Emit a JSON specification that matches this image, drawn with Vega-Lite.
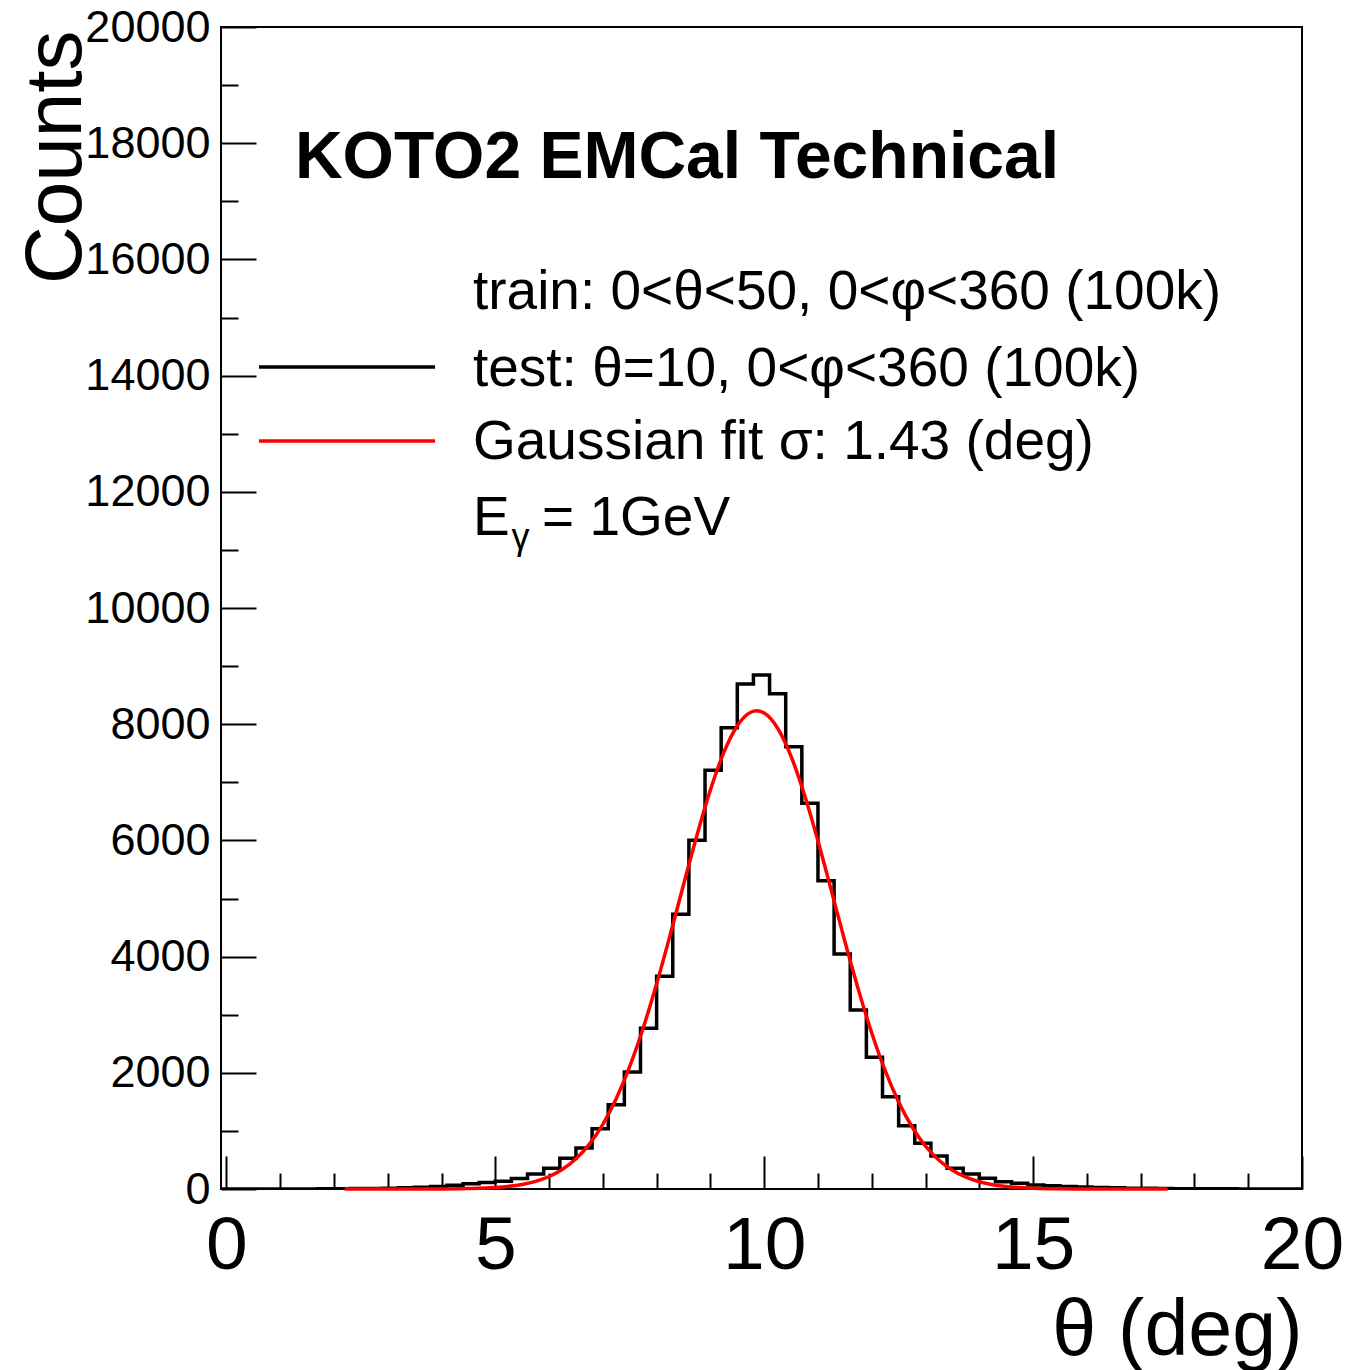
{
  "$schema": "https://vega.github.io/schema/vega-lite/v6.json",
  "autosize": {"type": "none"},
  "padding": {"left": 221, "top": 27, "right": 54, "bottom": 181},
  "width": 1081,
  "height": 1162,
  "background": "white",
  "config": {
    "view": {"stroke": "black", "strokeWidth": 2},
    "font": "Liberation Sans"
  },
  "datasets": {
    "hist": [
      {"theta": -0.1, "counts": 0}, {"theta": 0.2, "counts": 0}, {"theta": 0.5, "counts": 0}, {"theta": 0.8, "counts": 0},
      {"theta": 1.1, "counts": 1}, {"theta": 1.4, "counts": 2}, {"theta": 1.7, "counts": 3}, {"theta": 2.0, "counts": 5},
      {"theta": 2.3, "counts": 7}, {"theta": 2.6, "counts": 10}, {"theta": 2.9, "counts": 15}, {"theta": 3.2, "counts": 22},
      {"theta": 3.5, "counts": 32}, {"theta": 3.8, "counts": 45}, {"theta": 4.1, "counts": 65}, {"theta": 4.4, "counts": 90},
      {"theta": 4.7, "counts": 112}, {"theta": 5.0, "counts": 135}, {"theta": 5.3, "counts": 180}, {"theta": 5.6, "counts": 258},
      {"theta": 5.9, "counts": 356}, {"theta": 6.2, "counts": 528}, {"theta": 6.5, "counts": 706}, {"theta": 6.8, "counts": 1038},
      {"theta": 7.1, "counts": 1451}, {"theta": 7.4, "counts": 2014}, {"theta": 7.7, "counts": 2766}, {"theta": 8.0, "counts": 3660},
      {"theta": 8.3, "counts": 4730}, {"theta": 8.6, "counts": 6002}, {"theta": 8.9, "counts": 7206}, {"theta": 9.2, "counts": 7940},
      {"theta": 9.5, "counts": 8692}, {"theta": 9.8, "counts": 8847}, {"theta": 10.1, "counts": 8525}, {"theta": 10.4, "counts": 7613},
      {"theta": 10.7, "counts": 6638}, {"theta": 11.0, "counts": 5307}, {"theta": 11.3, "counts": 4045}, {"theta": 11.6, "counts": 3081},
      {"theta": 11.9, "counts": 2267}, {"theta": 12.2, "counts": 1589}, {"theta": 12.5, "counts": 1088}, {"theta": 12.8, "counts": 787},
      {"theta": 13.1, "counts": 568}, {"theta": 13.4, "counts": 356}, {"theta": 13.7, "counts": 258}, {"theta": 14.0, "counts": 184},
      {"theta": 14.3, "counts": 126}, {"theta": 14.6, "counts": 98}, {"theta": 14.9, "counts": 69}, {"theta": 15.2, "counts": 57},
      {"theta": 15.5, "counts": 45}, {"theta": 15.8, "counts": 35}, {"theta": 16.1, "counts": 27}, {"theta": 16.4, "counts": 20},
      {"theta": 16.7, "counts": 15}, {"theta": 17.0, "counts": 11}, {"theta": 17.3, "counts": 8}, {"theta": 17.6, "counts": 6},
      {"theta": 17.9, "counts": 5}, {"theta": 18.2, "counts": 4}, {"theta": 18.5, "counts": 3}, {"theta": 18.8, "counts": 2},
      {"theta": 19.1, "counts": 2}, {"theta": 19.4, "counts": 1}, {"theta": 19.7, "counts": 1}, {"theta": 20.0, "counts": 1}
    ],
    "fit": [
      {"theta": 2.2, "counts": 0}, {"theta": 3.0, "counts": 0.08}, {"theta": 3.5, "counts": 0.4}, {"theta": 4.0, "counts": 1.9},
      {"theta": 4.5, "counts": 7.3}, {"theta": 5.0, "counts": 25.5}, {"theta": 5.5, "counts": 79}, {"theta": 5.75, "counts": 132},
      {"theta": 6.0, "counts": 215}, {"theta": 6.25, "counts": 340}, {"theta": 6.5, "counts": 521}, {"theta": 6.75, "counts": 773},
      {"theta": 7.0, "counts": 1114}, {"theta": 7.25, "counts": 1556}, {"theta": 7.5, "counts": 2109}, {"theta": 7.75, "counts": 2771},
      {"theta": 8.0, "counts": 3532}, {"theta": 8.25, "counts": 4367}, {"theta": 8.5, "counts": 5236}, {"theta": 8.75, "counts": 6089},
      {"theta": 9.0, "counts": 6869}, {"theta": 9.25, "counts": 7514}, {"theta": 9.5, "counts": 7973}, {"theta": 9.75, "counts": 8206},
      {"theta": 9.86, "counts": 8230}, {"theta": 10.0, "counts": 8191}, {"theta": 10.25, "counts": 7930}, {"theta": 10.5, "counts": 7446},
      {"theta": 10.75, "counts": 6781}, {"theta": 11.0, "counts": 5990}, {"theta": 11.25, "counts": 5132}, {"theta": 11.5, "counts": 4264},
      {"theta": 11.75, "counts": 3436}, {"theta": 12.0, "counts": 2686}, {"theta": 12.25, "counts": 2036}, {"theta": 12.5, "counts": 1497},
      {"theta": 12.75, "counts": 1067}, {"theta": 13.0, "counts": 738}, {"theta": 13.25, "counts": 495}, {"theta": 13.5, "counts": 322},
      {"theta": 13.75, "counts": 203}, {"theta": 14.0, "counts": 125}, {"theta": 14.25, "counts": 74}, {"theta": 14.5, "counts": 42.6},
      {"theta": 15.0, "counts": 12.9}, {"theta": 15.5, "counts": 3.4}, {"theta": 16.0, "counts": 0.8}, {"theta": 16.5, "counts": 0.2},
      {"theta": 17.5, "counts": 0}
    ]
  },
  "layer": [
    {
      "data": {"name": "hist"},
      "mark": {"type": "line", "color": "black", "strokeWidth": 3.5, "interpolate": "step-after", "clip": true},
      "encoding": {
        "x": {
          "field": "theta", "type": "quantitative",
          "scale": {"domain": [-0.1, 20], "nice": false, "zero": false},
          "axis": {
            "title": "θ (deg)",
            "titleFont": "Liberation Sans", "titleFontSize": 79, "titleFontWeight": "normal", "titleColor": "black",
            "titleAnchor": "end", "titleAlign": "right", "titleBaseline": "alphabetic", "titleX": 1081, "titleY": 165,
            "values": [0,1,2,3,4,5,6,7,8,9,10,11,12,13,14,15,16,17,18,19,20],
            "format": "d",
            "labelExpr": "datum.value % 5 === 0 ? datum.label : ''",
            "labelFont": "Liberation Sans", "labelFontSize": 75, "labelColor": "black",
            "labelBaseline": "alphabetic", "labelPadding": 112, "labelFlush": false, "labelOverlap": false, "labelBound": false,
            "domain": false, "grid": false,
            "tickColor": "black", "tickWidth": 2,
            "tickSize": {"condition": {"test": "datum.value % 5 === 0", "value": -33}, "value": -16}
          }
        },
        "y": {
          "field": "counts", "type": "quantitative",
          "scale": {"domain": [0, 20000], "nice": false},
          "axis": {
            "title": "Counts",
            "titleFont": "Liberation Sans", "titleFontSize": 80, "titleFontWeight": "normal", "titleColor": "black",
            "titleAngle": 270, "titleAnchor": "end", "titleAlign": "right", "titleBaseline": "alphabetic", "titleX": -141, "titleY": 3,
            "values": [0,500,1000,1500,2000,2500,3000,3500,4000,4500,5000,5500,6000,6500,7000,7500,8000,8500,9000,9500,10000,10500,11000,11500,12000,12500,13000,13500,14000,14500,15000,15500,16000,16500,17000,17500,18000,18500,19000,19500,20000],
            "format": "d",
            "labelExpr": "datum.value % 2000 === 0 ? datum.label : ''",
            "labelFont": "Liberation Sans", "labelFontSize": 45, "labelColor": "black",
            "labelBaseline": "middle", "labelPadding": 46, "labelOverlap": false, "labelBound": false,
            "domain": false, "grid": false,
            "tickColor": "black", "tickWidth": 2,
            "tickSize": {"condition": {"test": "datum.value % 2000 === 0", "value": -35}, "value": -17}
          }
        }
      }
    },
    {
      "data": {"name": "fit"},
      "mark": {"type": "line", "color": "#ff0000", "strokeWidth": 3.5, "interpolate": "monotone"},
      "encoding": {
        "x": {"field": "theta", "type": "quantitative"},
        "y": {"field": "counts", "type": "quantitative"}
      }
    },
    {
      "data": {"values": [{}]},
      "mark": {"type": "rule", "color": "black", "strokeWidth": 3.5},
      "encoding": {
        "x": {"datum": 0.606, "type": "quantitative"},
        "x2": {"datum": 3.88},
        "y": {"datum": 14148, "type": "quantitative"}
      }
    },
    {
      "data": {"values": [{}]},
      "mark": {"type": "rule", "color": "#ff0000", "strokeWidth": 3.5},
      "encoding": {
        "x": {"datum": 0.606, "type": "quantitative"},
        "x2": {"datum": 3.88},
        "y": {"datum": 12874, "type": "quantitative"}
      }
    },
    {
      "data": {"values": [{}]},
      "mark": {"type": "text", "text": "KOTO2 EMCal Technical", "font": "Liberation Sans", "fontSize": 66, "fontWeight": "bold", "align": "left", "baseline": "alphabetic", "color": "black"},
      "encoding": {
        "x": {"datum": 1.275, "type": "quantitative"},
        "y": {"datum": 17401, "type": "quantitative"}
      }
    },
    {
      "data": {"values": [{}]},
      "mark": {"type": "text", "text": "train: 0<θ<50, 0<φ<360 (100k)", "font": "Liberation Sans", "fontSize": 55, "align": "left", "baseline": "alphabetic", "color": "black"},
      "encoding": {
        "x": {"datum": 4.585, "type": "quantitative"},
        "y": {"datum": 15146, "type": "quantitative"}
      }
    },
    {
      "data": {"values": [{}]},
      "mark": {"type": "text", "text": "test: θ=10, 0<φ<360 (100k)", "font": "Liberation Sans", "fontSize": 55, "align": "left", "baseline": "alphabetic", "color": "black"},
      "encoding": {
        "x": {"datum": 4.585, "type": "quantitative"},
        "y": {"datum": 13821, "type": "quantitative"}
      }
    },
    {
      "data": {"values": [{}]},
      "mark": {"type": "text", "text": "Gaussian fit σ: 1.43 (deg)", "font": "Liberation Sans", "fontSize": 55, "align": "left", "baseline": "alphabetic", "color": "black"},
      "encoding": {
        "x": {"datum": 4.585, "type": "quantitative"},
        "y": {"datum": 12565, "type": "quantitative"}
      }
    },
    {
      "data": {"values": [{}]},
      "mark": {"type": "text", "text": "E", "font": "Liberation Sans", "fontSize": 55, "align": "left", "baseline": "alphabetic", "color": "black"},
      "encoding": {
        "x": {"datum": 4.585, "type": "quantitative"},
        "y": {"datum": 11256, "type": "quantitative"}
      }
    },
    {
      "data": {"values": [{}]},
      "mark": {"type": "text", "text": "γ", "font": "Liberation Sans", "fontSize": 36, "align": "left", "baseline": "alphabetic", "color": "black"},
      "encoding": {
        "x": {"datum": 5.3, "type": "quantitative"},
        "y": {"datum": 11020, "type": "quantitative"}
      }
    },
    {
      "data": {"values": [{}]},
      "mark": {"type": "text", "text": "= 1GeV", "font": "Liberation Sans", "fontSize": 55, "align": "left", "baseline": "alphabetic", "color": "black"},
      "encoding": {
        "x": {"datum": 5.87, "type": "quantitative"},
        "y": {"datum": 11256, "type": "quantitative"}
      }
    }
  ]
}
